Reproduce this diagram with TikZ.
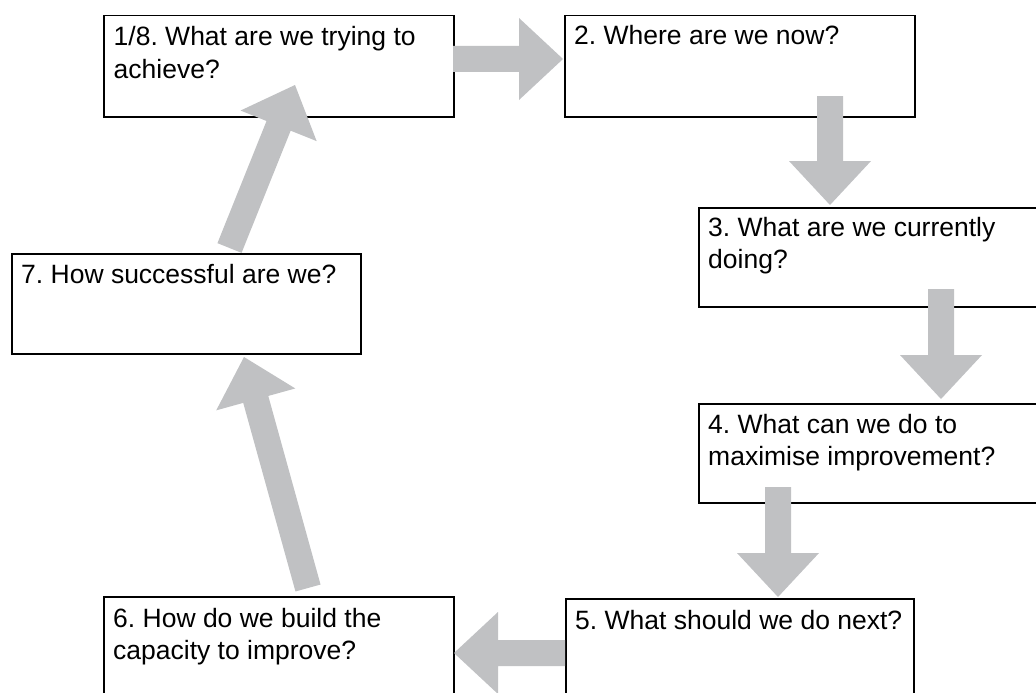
\documentclass[tikz,border=0pt]{standalone}
\usepackage{fontspec}
\setmainfont{Liberation Sans}
\usetikzlibrary{calc}
\frenchspacing
\definecolor{arrowgray}{RGB}{192,193,195}
\newcommand\blockarrow[2]{%
  \coordinate (hb) at ($(#2)!44pt!(#1)$);
  \fill[arrowgray]
    ($(#1)!13pt!90:(#2)$) --
    ($(hb)!13pt!90:(#2)$) --
    ($(hb)!41pt!90:(#2)$) --
    (#2) --
    ($(hb)!41pt!-90:(#2)$) --
    ($(hb)!13pt!-90:(#2)$) --
    ($(#1)!13pt!-90:(#2)$) -- cycle;
}
\tikzset{
  qbox/.style={draw=black, line width=1.5pt, fill=white, rectangle, anchor=north west,
               minimum width=350pt, minimum height=101pt, inner sep=0pt},
  txt/.style={anchor=base west, inner sep=0pt, font=\fontsize{26.5}{32}\selectfont}
}
\begin{document}
\begin{tikzpicture}[x=1pt,y=-1pt]
\path[use as bounding box] (0,0) rectangle (1036,693);
\clip (0,0) rectangle (1036,693);
\fill[white] (0,0) rectangle (1036,693);

% boxes
\node[qbox] (b1) at (103,15) {};
\node[qbox] (b2) at (564,15) {};
\node[qbox, minimum height=99pt] (b3) at (698,207) {};
\node[qbox, minimum width=349pt, minimum height=100pt] (b7) at (11,253) {};
\node[qbox, minimum height=99pt] (b4) at (698,403) {};
\node[qbox, minimum width=348pt] (b5) at (565,598) {};
\node[qbox] (b6) at (103,596) {};

% texts
\node[txt] (t1a) at ($(b1.north west)+(10.5,31)$) {1/8. What are we trying to};
\node[txt] (t1b) at ($(t1a.base west)+(0,32)$) {achieve?};
\node[txt] (t2a) at ($(b2.north west)+(10,30)$) {2. Where are we now?};
\node[txt] (t3a) at ($(b3.north west)+(10,29)$) {3. What are we currently};
\node[txt] (t3b) at ($(t3a.base west)+(0,32)$) {doing?};
\node[txt] (t7a) at ($(b7.north west)+(10,30)$) {7. How successful are we?};
\node[txt] (t4a) at ($(b4.north west)+(10,30)$) {4. What can we do to};
\node[txt] (t4b) at ($(t4a.base west)+(0,32)$) {maximise improvement?};
\node[txt] (t5a) at ($(b5.north west)+(10,31)$) {5. What should we do next?};
\node[txt] (t6a) at ($(b6.north west)+(10,31)$) {6. How do we build the};
\node[txt] (t6b) at ($(t6a.base west)+(0,32)$) {capacity to improve?};

% arrow end points
\coordinate (a12s) at (453,59);   \coordinate (a12e) at (563,59);
\coordinate (a23s) at (830,96);   \coordinate (a23e) at (830,205);
\coordinate (a34s) at (941,289);  \coordinate (a34e) at (941,399);
\coordinate (a45s) at (778,487);  \coordinate (a45e) at (778,597);
\coordinate (a56s) at (565,653);  \coordinate (a56e) at (454,653);
\coordinate (a67s) at (308,588);  \coordinate (a67e) at (244,357);
\coordinate (a71s) at (229.5,248);\coordinate (a71e) at (295,85);

\blockarrow{a12s}{a12e}
\blockarrow{a23s}{a23e}
\blockarrow{a34s}{a34e}
\blockarrow{a45s}{a45e}
\blockarrow{a56s}{a56e}
\blockarrow{a67s}{a67e}
\blockarrow{a71s}{a71e}
\end{tikzpicture}
\end{document}
